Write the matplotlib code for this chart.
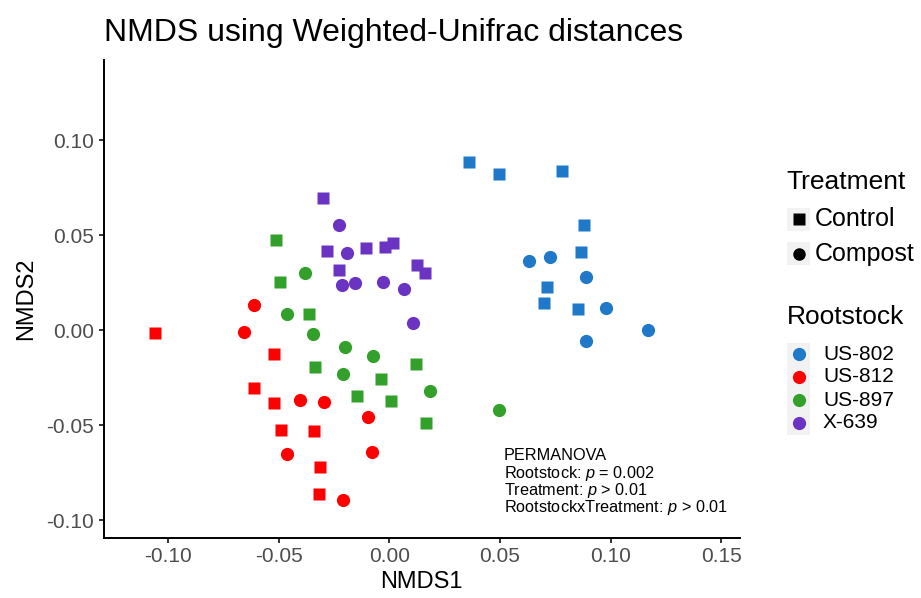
import matplotlib
matplotlib.use("Agg")
import matplotlib.pyplot as plt
from matplotlib.patches import Rectangle
from matplotlib.lines import Line2D

plt.rcParams['font.family'] = ['Liberation Sans', 'DejaVu Sans']
plt.rcParams['mathtext.fontset'] = 'custom'
plt.rcParams['mathtext.rm'] = 'Liberation Sans'
plt.rcParams['mathtext.it'] = 'Liberation Sans:italic'

# ---------------- data ----------------
rootstocks = ["US-802", "US-812", "US-897", "X-639"]
colors = ["#1F78C8", "#FF0000", "#33A02C", "#6A33C2"]
treatments = ["Control", "Compost"]

# US-802
us802_control_x = [0.0359, 0.0494, 0.0779, 0.0881, 0.0864, 0.0711, 0.0699, 0.0854]
us802_control_y = [0.0886, 0.0823, 0.0837, 0.0554, 0.0412, 0.0228, 0.0144, 0.0111]
us802_compost_x = [0.0630, 0.0724, 0.0887, 0.0980, 0.1167, 0.0888]
us802_compost_y = [0.0362, 0.0383, 0.0281, 0.0117, -0.0002, -0.0056]
# US-812
us812_control_x = [-0.1058, -0.0521, -0.0610, -0.0519, -0.0491, -0.0341, -0.0312, -0.0316]
us812_control_y = [-0.0014, -0.0128, -0.0305, -0.0384, -0.0528, -0.0530, -0.0719, -0.0865]
us812_compost_x = [-0.0610, -0.0655, -0.0405, -0.0295, -0.0095, -0.0463, -0.0077, -0.0208]
us812_compost_y = [0.0132, -0.0009, -0.0370, -0.0381, -0.0458, -0.0653, -0.0644, -0.0893]
# US-897
us897_control_x = [-0.0513, -0.0492, -0.0363, -0.0336, -0.0036, 0.0121, -0.0147, 0.0008, 0.0166]
us897_control_y = [0.0474, 0.0251, 0.0084, -0.0195, -0.0259, -0.0181, -0.0349, -0.0375, -0.0491]
us897_compost_x = [-0.0382, -0.0461, -0.0343, -0.0199, -0.0075, -0.0210, 0.0182, 0.0495]
us897_compost_y = [0.0300, 0.0086, -0.0019, -0.0088, -0.0137, -0.0233, -0.0319, -0.0421]
# X-639
x639_control_x = [-0.0301, -0.0283, -0.0104, -0.0019, 0.0015, -0.0229, 0.0125, 0.0163]
x639_control_y = [0.0693, 0.0417, 0.0433, 0.0438, 0.0459, 0.0317, 0.0341, 0.0302]
x639_compost_x = [-0.0226, -0.0190, -0.0215, -0.0154, -0.0028, 0.0065, 0.0107]
x639_compost_y = [0.0554, 0.0407, 0.0235, 0.0247, 0.0253, 0.0214, 0.0037]

xticks = [-0.10, -0.05, 0.00, 0.05, 0.10, 0.15]
yticks = [-0.10, -0.05, 0.00, 0.05, 0.10]

groups = [
    (us802_control_x, us802_control_y, us802_compost_x, us802_compost_y),
    (us812_control_x, us812_control_y, us812_compost_x, us812_compost_y),
    (us897_control_x, us897_control_y, us897_compost_x, us897_compost_y),
    (x639_control_x, x639_control_y, x639_compost_x, x639_compost_y),
]

W, H = 921, 598
fig = plt.figure(figsize=(W / 100, H / 100), dpi=100)

def fx(px):
    return px / W

def fy(py):
    return 1 - py / H

ax = fig.add_axes([fx(103.5), fy(538.3), fx(740) - fx(103.5), fy(60) - fy(538.3)])

sq_size = 8.8
ci_size = 9.5
for (cx, cy, ox, oy), col in zip(groups, colors):
    ax.plot(cx, cy, ls='none', marker='s', ms=sq_size, mfc=col, mec='none')
    ax.plot(ox, oy, ls='none', marker='o', ms=ci_size, mfc=col, mec='none')

ax.set_xlim(-0.1291, 0.1584)
ax.set_ylim(-0.1096, 0.1421)
ax.set_xticks(xticks)
ax.set_xticklabels([f"{t:.2f}" for t in xticks])
ax.set_yticks(yticks)
ax.set_yticklabels([f"{t:.2f}" for t in yticks])
for s in ['top', 'right']:
    ax.spines[s].set_visible(False)
for s in ['left', 'bottom']:
    ax.spines[s].set_linewidth(1.4)
    ax.spines[s].set_color('black')
ax.tick_params(axis='both', direction='out', length=3.6, width=1.4, color='#333333',
               labelsize=15, labelcolor='#4D4D4D', pad=3)
ax.set_xlabel("NMDS1", fontsize=17, color='black', labelpad=3)
ax.set_ylabel("NMDS2", fontsize=17, color='black', labelpad=7)

fig.text(fx(104), fy(41), "NMDS using Weighted-Unifrac distances", fontsize=23,
         ha='left', va='baseline', color='black')

# PERMANOVA annotation
ann_lines = ["PERMANOVA", "Rootstock: $p$ = 0.002", "Treatment: $p$ > 0.01",
             "RootstockxTreatment: $p$ > 0.01"]
for i, line in enumerate(ann_lines):
    fig.text(fx(504), fy(456 + i * 17.3), line, fontsize=11.7, ha='left', va='center',
             color='black')

# legends
key_w = 23
fig.text(fx(786), fy(182), "Treatment", fontsize=19, ha='left', va='center')
for i, (lab, mk, ms) in enumerate(zip(treatments, ['s', 'o'], [8.2, 9.0])):
    cy = 219.5 + i * 34
    fig.add_artist(Rectangle((fx(787), fy(cy + key_w / 2)), fx(key_w), key_w / H,
                             transform=fig.transFigure, facecolor='#F2F2F2', edgecolor='none'))
    fig.add_artist(Line2D([fx(798.5)], [fy(cy)], transform=fig.transFigure, marker=mk, ms=ms,
                          mfc='black', mec='none', ls='none'))
    fig.text(fx(815), fy(cy), lab, fontsize=18, ha='left', va='center')

fig.text(fx(787), fy(317), "Rootstock", fontsize=19, ha='left', va='center')
for i, (lab, col) in enumerate(zip(rootstocks, colors)):
    cy = 354 + i * 23
    fig.add_artist(Rectangle((fx(787), fy(cy + key_w / 2)), fx(key_w), key_w / H,
                             transform=fig.transFigure, facecolor='#F2F2F2', edgecolor='none'))
    fig.add_artist(Line2D([fx(798.5)], [fy(cy)], transform=fig.transFigure, marker='o', ms=ci_size,
                          mfc=col, mec='none', ls='none'))
    fig.text(fx(823), fy(cy), lab, fontsize=15, ha='left', va='center')

fig.savefig("out.png", dpi=100)
